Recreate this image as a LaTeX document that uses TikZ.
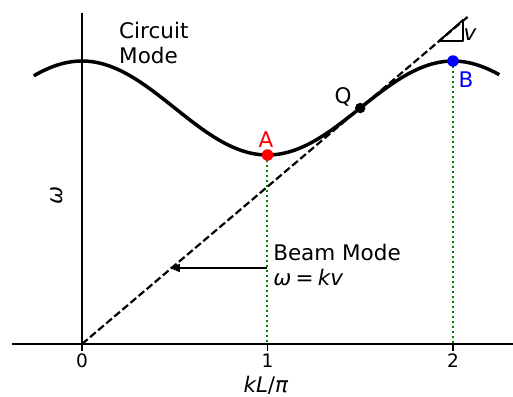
\documentclass[tikz,border=0pt]{standalone}
\usepackage{fontspec}
\setmainfont{DejaVu Sans}
\usetikzlibrary{arrows.meta}
\definecolor{mplgreen}{RGB}{0,128,0}
\tikzset{
  axisline/.style={line width=2.7pt},
  modecurve/.style={line width=3.5pt},
  beamline/.style={line width=2.2pt, dash pattern=on 7.4pt off 3.2pt},
  guide/.style={mplgreen, line width=2pt, dash pattern=on 2pt off 3pt},
  tickmark/.style={line width=1.2pt},
  dot/.style={circle, fill, inner sep=0pt, minimum size=11.5pt},
  lbl/.style={font=\fontsize{21.5}{25.8}\selectfont, inner sep=0pt},
  ticklbl/.style={font=\fontsize{18.5}{22}\selectfont, inner sep=0pt}
}
\begin{document}
\begin{tikzpicture}[x=185.5pt, y=47pt, line join=round]
\useasboundingbox (-0.4420,-1.1064) rectangle (2.3235,7.3191);
% axes
\coordinate (O) at (0,0);
\coordinate (xL) at (-0.377,0);
\coordinate (xR) at (2.3235,0);
\coordinate (yT) at (0,7.043);
\draw[axisline] (xL) -- (xR);
\draw[axisline] (O) -- (yT);
% beam mode line omega = k v
\coordinate (T) at (2.09,6.996);
\draw[beamline] (O) -- (T);
% circuit mode
\draw[modecurve] plot[domain=-0.26:2.25, samples=120, smooth] (\x, {5.021+cos(180*\x)});
\coordinate (a) at (1,4.021);
\coordinate (b) at (2,6.021);
\coordinate (q) at (1.5,5.021);
\draw[guide] (a) -- (a |- O);
\draw[guide] (b) -- (b |- O);
\node[dot, red] (A) at (a) {};
\node[dot, blue] (B) at (b) {};
\node[dot, minimum size=10.5pt] (Q) at (q) {};
\node[lbl, red] (labA) at (0.992,4.340) {A};
\node[lbl, blue] (labB) at (2.070,5.617) {B};
\node[lbl] (labQ) at (1.407,5.255) {Q};
% slope triangle
\draw[line width=1.9pt] (1.925,6.447) -- (2.054,6.447) -- (2.054,6.894) -- cycle;
\node[lbl, font=\fontsize{21.5}{25.8}\selectfont\itshape] (labv) at (2.092,6.574) {v};
% mode labels
\node[lbl, align=left, anchor=west] (circ) at (0.1995,6.404) {Circuit\\Mode};
\node[lbl, align=left, anchor=west] (beam) at (1.030,1.681) {Beam Mode\\\itshape ω\hspace{0.2em}\upshape=\hspace{0.2em}\itshape kv};
\coordinate (arrS) at (1,1.617);
\coordinate (arrE) at (0.474,1.617);
\draw[line width=1.9pt, -{Triangle[length=10pt, width=8pt]}] (arrS) -- (arrE);
% ticks and axis labels
\foreach \k in {0,1,2}{
  \draw[tickmark] (\k,0) -- ++(0,-7pt);
  \node[ticklbl] (tick\k) at (\k,-0.362) {\k};
}
\node[lbl] (xlab) at (0.992,-0.872) {\textit{kL}/\textit{π}};
\node[lbl, rotate=90] (ylab) at (-0.135,3.170) {\itshape ω};
\end{tikzpicture}
\end{document}
